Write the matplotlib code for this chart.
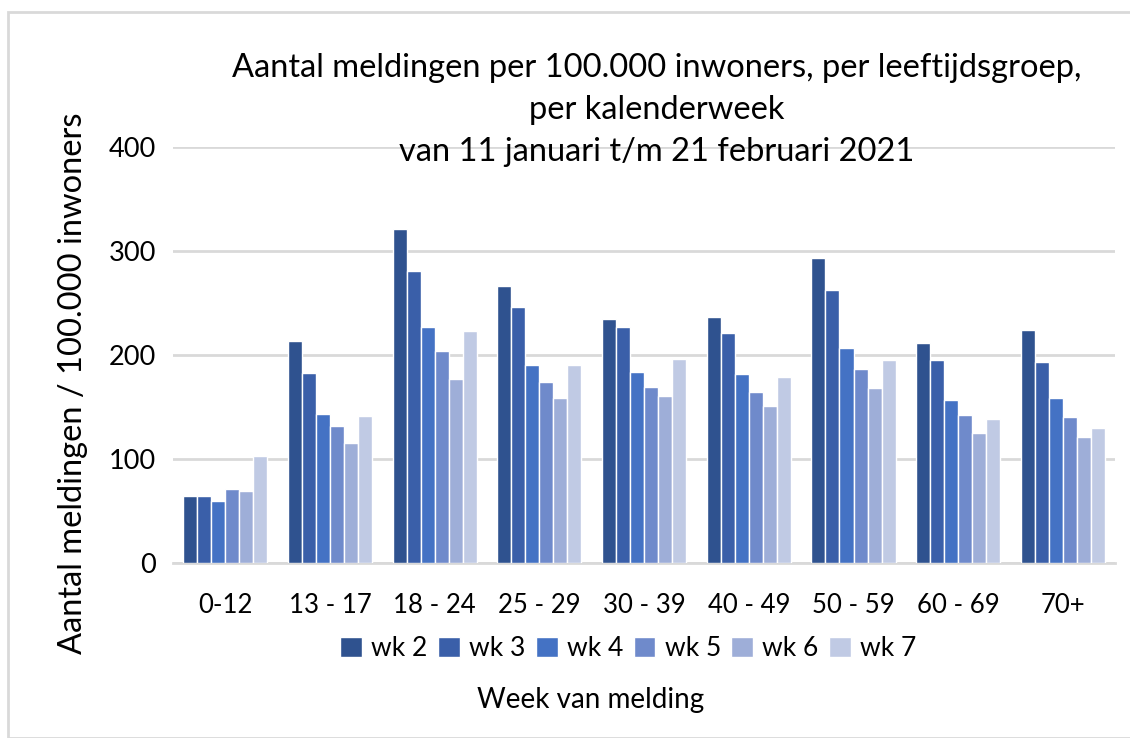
import matplotlib
matplotlib.use("Agg")
import matplotlib.pyplot as plt
import numpy as np
from matplotlib.patches import Rectangle

categories = ["0-12", "13 - 17", "18 - 24", "25 - 29", "30 - 39", "40 - 49", "50 - 59", "60 - 69", "70+"]
series_names = ["wk 2", "wk 3", "wk 4", "wk 5", "wk 6", "wk 7"]
wk2 = [64, 213, 321, 266, 234, 236, 293, 211, 224]
wk3 = [64, 182, 280, 246, 227, 221, 262, 195, 193]
wk4 = [59, 143, 227, 190, 183, 181, 206, 156, 158]
wk5 = [71, 131, 203, 174, 169, 164, 186, 142, 140]
wk6 = [69, 115, 177, 158, 160, 151, 168, 125, 121]
wk7 = [102, 141, 223, 190, 196, 178, 195, 138, 129]
series = [wk2, wk3, wk4, wk5, wk6, wk7]
colors = ["#2F528F", "#3A5FA9", "#4472C4", "#6F8ACB", "#9EAED8", "#C0CAE4"]
yticks = [0, 100, 200, 300, 400]

FONT = "Lato"
plt.rcParams['font.family'] = [FONT, 'DejaVu Sans']

fig = plt.figure(figsize=(11.3, 7.38), dpi=100)
ax = fig.add_axes([0.153, 0.2378, 0.834, 0.5634])

x = np.arange(len(categories))
bw = 0.134
for i, (vals, c, name) in enumerate(zip(series, colors, series_names)):
    ax.bar(x + (i - 2.5) * bw, vals, width=bw, color=c, edgecolor="white",
           linewidth=1.0, label=name, zorder=3)

ax.set_ylim(0, 400)
ax.set_xlim(-0.5, len(categories) - 0.5)
ax.set_yticks(yticks)
ax.set_yticklabels([str(t) for t in yticks], fontsize=19.5)
ax.set_xticks(x)
ax.set_xticklabels(categories, fontsize=18.5)
ax.tick_params(axis='both', length=0, pad=12, colors="black")
ax.tick_params(axis='x', pad=22)
ax.grid(axis='y', color="#D9D9D9", linewidth=2, zorder=0)
for s in ["top", "right", "left"]:
    ax.spines[s].set_visible(False)
ax.spines["bottom"].set_color("#D9D9D9")
ax.spines["bottom"].set_linewidth(2)

ax.set_ylabel("Aantal meldingen / 100.000 inwoners", fontsize=23.5)
ax.yaxis.set_label_coords(-0.09, 0.43)

fig.text(0.581, 0.928, "Aantal meldingen per 100.000 inwoners, per leeftijdsgroep,\nper kalenderweek\nvan 11 januari t/m 21 februari 2021",
         ha="center", va="top", fontsize=23.5, linespacing=1.5)

leg = fig.legend(loc="center", bbox_to_anchor=(0.556, 0.121), ncol=6, frameon=False,
                 fontsize=19, handlelength=0.82, handleheight=0.82, handletextpad=0.35,
                 columnspacing=0.4)

fig.text(0.523, 0.051, "Week van melding", ha="center", va="center", fontsize=20)

fig.patches.append(Rectangle((8 / 1130, 0), 1.1, (738 - 12) / 738, transform=fig.transFigure,
                             fill=False, edgecolor="#D9D9D9", linewidth=2))

fig.savefig("out.png", dpi=100)
